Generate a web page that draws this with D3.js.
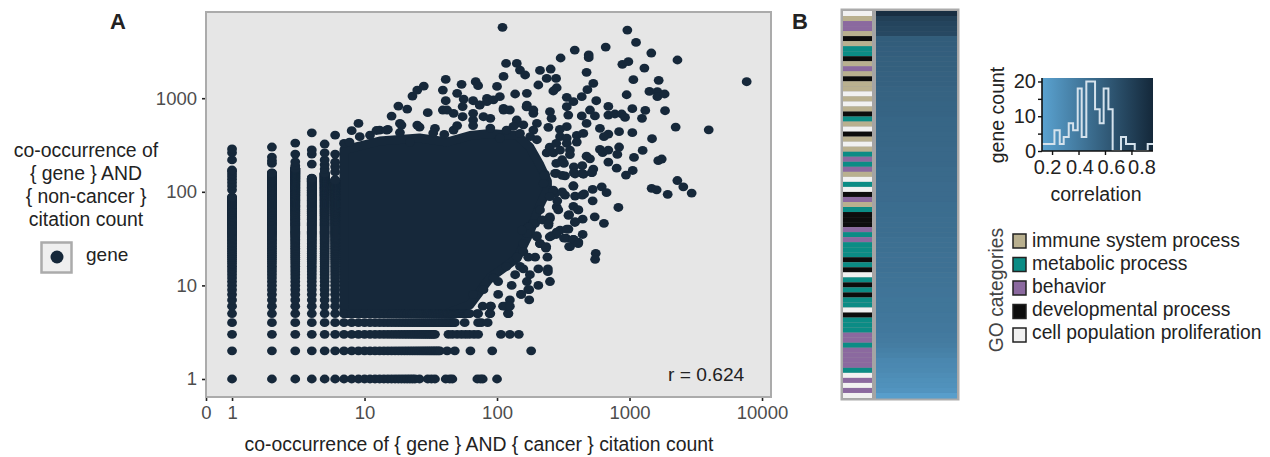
<!DOCTYPE html>
<html>

<head>
  <script src="https://d3js.org/d3.v7.min.js"></script>
  <style>
    body {
      margin: 0;
      background: white;
    }

    text {
      font-family: "Liberation Sans", Arial, sans-serif;
    }
  </style>
</head>

<body>
  <svg id="chart" width="1270" height="457"></svg>

  <script>
    // Panel A, values (citation counts)
    const xDomain = [0.636, 11690];
    const yDomain = [0.642, 8340];
    const xTicks = [0.636, 1, 10, 100, 1000, 10000];
    const yTicks = [1, 10, 100, 1000];

    // solid columns at small x: every count from 1 up to columnTop is taken
    const columnX = [1, 2, 3, 4, 5, 6];
    const columnTop = [88, 159, 179, 140, 159, 134];
    const columnExtras = [
      [105, 115, 125, 135, 145, 155, 165, 171, 219, 262, 287],
      [201, 215, 235, 301],
      [190, 209, 253, 332],
      [198, 253, 280, 427],
      [175, 195, 219, 260, 324],
      [163, 185, 207, 253, 404]
    ];

    // solid rows at small y, from x = 7 up to rowEnd
    const rowY = [1, 2, 3, 4, 5];
    const rowEnd = [24, 37, 34, 48, 62];
    const rowExtras = [
      [26, 30, 32, 34, 41, 44, 46, 71, 75, 78, 100],
      [42, 48, 63, 92, 181],
      [43, 46, 50, 54, 58, 62, 67, 72, 107, 125, 146],
      [57, 72, 76, 85],
      [71, 72, 88, 89, 121, 122]
    ];

    // outline of the part where the points merge into one solid shape
    const coreX = [7, 13, 26, 42, 62.5, 88.5, 142, 177, 211, 240];
    const coreTop = [280, 349, 376, 340, 400, 420, 400, 300, 193, 130];
    const coreBottom = [5, 5, 5, 5, 6.2, 12, 19.6, 37, 72, 105];

    const loosePoints = [
      [110, 5720], [963, 5350], [1120, 3950], [1460, 3040], [2300, 2560], [386, 3270], [661, 3520],
      [302, 2690], [492, 2900], [492, 2710], [7660, 1500], [3960, 460], [2230, 492], [883, 2300],
      [980, 2455], [1295, 2100], [474, 1890], [1069, 1578], [1660, 1552], [533, 1439], [481, 1233],
      [951, 1089], [1413, 1183], [1622, 1175], [1622, 1038], [1841, 1109], [561, 940], [692, 818],
      [1050, 773], [1315, 741], [1854, 735], [1242, 610], [692, 661], [776, 678], [873, 678],
      [925, 624], [834, 439], [1050, 428], [1479, 369], [692, 414], [598, 476], [641, 388],
      [834, 301], [1256, 277], [1081, 233], [1648, 215], [1750, 224], [809, 251], [692, 208],
      [800, 179], [940, 151], [1057, 169], [598, 284], [627, 262], [692, 279], [2296, 132],
      [2547, 113], [2944, 97], [1469, 109], [1603, 105], [1941, 94], [824, 68], [527, 106],
      [617, 113], [671, 98], [527, 80], [546, 54], [641, 46], [443, 51], [443, 35], [387, 47],
      [8, 450], [9, 538], [7, 330], [18, 824], [16, 644], [21, 766], [23, 1054], [25, 1222],
      [28, 1349], [41, 1589], [39, 1222], [41, 940], [54, 1406], [50, 1127], [69, 1500], [72, 1361],
      [56, 980], [66, 940], [100, 1337], [112, 1710], [117, 2355], [141, 2355], [149, 2000],
      [163, 1770], [211, 1982], [254, 2051], [237, 1629], [279, 1629], [282, 1294], [266, 1194],
      [205, 1384], [137, 1109], [168, 1127], [105, 1038], [84, 995], [74, 845], [30, 700], [39, 748],
      [336, 1021], [377, 918], [436, 1038], [336, 811], [251, 718], [258, 610], [345, 661], [503, 748],
      [436, 646], [548, 646], [474, 538], [244, 489], [336, 497], [298, 464], [188, 689], [168, 845],
      [112, 778], [141, 585], [19, 516], [25, 516], [34, 476], [13, 457], [15, 464], [11, 404],
      [47, 457], [66, 585], [230, 154], [274, 157], [326, 148], [388, 155], [449, 154], [519, 160],
      [377, 116], [454, 95], [388, 90], [326, 92], [274, 96], [282, 69], [346, 56], [411, 64],
      [388, 48], [251, 52], [244, 44], [194, 46], [172, 42], [346, 40], [282, 37], [259, 34],
      [332, 32], [377, 31], [411, 29], [356, 26], [556, 22], [550, 19], [199, 34], [211, 28],
      [234, 25], [240, 20], [194, 20], [205, 15], [242, 15], [242, 14], [251, 11], [205, 10],
      [177, 13], [168, 11], [172, 9], [152, 8], [175, 7], [158, 15], [137, 13], [158, 23], [129, 10],
      [102, 8], [125, 7], [115, 6], [89, 6], [78, 6], [70, 8], [90, 6], [111, 6], [125, 6],
      [152, 8], [175, 9],
      // clumps along the top of the solid part
      [42, 748], [47, 690], [55, 815], [55, 634], [66, 690], [79, 634], [89, 610], [74, 850], [84, 920],
      [94, 960], [112, 748], [125, 748], [141, 538], [167, 810], [188, 748], [200, 538], [158, 520],
      [188, 457], [149, 420], [118, 457], [105, 375], [200, 360], [178, 388], [133, 500], [89, 480],
      [66, 510], [50, 510], [40, 410], [33, 425], [26, 490], [18.5, 430], [14.7, 457], [12.3, 452],
      [9.2, 388], [7.7, 340], [22, 340], [18.5, 538],
      // clumps on its right side
      [299, 388], [336, 375], [400, 400], [448, 420], [250, 300], [280, 330], [336, 330], [400, 340],
      [237, 260], [266, 260], [299, 279], [355, 279], [310, 220], [355, 250], [474, 240], [503, 225],
      [280, 201], [320, 201], [440, 190], [380, 185], [533, 175], [280, 157], [310, 150], [380, 160],
      [440, 157], [520, 160], [228, 150], [225, 123], [266, 104], [310, 100], [377, 115], [440, 92],
      [250, 89], [285, 80], [377, 70], [410, 64], [350, 57], [290, 64], [250, 54], [211, 64], [188, 46],
      [220, 50], [245, 46], [173, 42], [299, 39], [336, 40], [280, 35], [250, 33], [200, 33], [211, 28],
      [235, 26], [320, 32], [377, 31], [410, 28], [350, 26],
      // lower right edge
      [66, 8], [79, 9], [102, 11], [149, 16], [118, 16], [94, 12], [141, 20], [172, 20], [158, 28],
      [168, 36], [154, 39]
    ];

    // Panel B
    const categoryNames = ['immune system process', 'metabolic process', 'behavior', 'developmental process', 'cell population proliferation'];
    const categoryColors = ['#b9b08f', '#0b8c85', '#8b699f', '#0d0d0d', '#f1f1f1'];
    // one letter per gene, top to bottom
    const geneCategories = 'wtpptktggktptkttwtwtkgtwktwtgpgptwgwkptgkkkpgpgggkgkwgkgkggwkgggppgppppgwpwpw'.split('');
    const categoryKeys = ['t', 'g', 'p', 'k', 'w'];
    const geneCorrelations = [
      .92, .80, .77, .75, .74, .60, .60, .59, .59, .58, .58, .58, .57, .57, .57, .56, .56, .56, .55, .55,
      .55, .54, .54, .54, .53, .53, .53, .52, .52, .52, .52, .51, .51, .51, .50, .50, .50, .50, .49, .49,
      .49, .48, .48, .48, .48, .47, .47, .47, .46, .46, .46, .46, .45, .45, .45, .44, .44, .43, .43, .43,
      .42, .42, .41, .41, .40, .39, .38, .36, .34, .31, .30, .29, .27, .25, .24, .22, .15
    ];

    // histogram inset
    const histEdges = [.124, .218, .258, .288, .326, .359, .394, .424, .459, .525, .56, .59, .626, .658, .721, .759, .825, .923, .963];
    const histCounts = [2, 6, 2, 4, 8, 6, 18, 4, 20, 12, 8, 18, 12, 0, 4, 2, 0, 2];
    const histXTicks = [0.2, 0.4, 0.6, 0.8];
    const histXLabelShift = [-5, 1, 6, 10];
    const histYTicks = [0, 5, 10, 15, 20];

    const dotColor = '#16283a';
    const borderColor = '#ababab';
    const lowColor = '#5aa2d0';
    const highColor = '#14283a';

    const svg = d3.select('svg#chart');

    // ---- panel A ----
    const plot = { left: 206, right: 771, top: 12, bottom: 397 };

    const xScale = d3.scaleLog().domain(xDomain).range([plot.left, plot.right]);
    const yScale = d3.scaleLog().domain(yDomain).range([plot.bottom, plot.top]);

    svg.append('rect')
      .attr('x', plot.left)
      .attr('y', plot.top)
      .attr('width', plot.right - plot.left)
      .attr('height', plot.bottom - plot.top)
      .attr('fill', '#e6e6e6')
      .attr('stroke', borderColor)
      .attr('stroke-width', 2);

    // expand the columns and rows to points
    const genePoints = [];
    columnX.forEach((x, i) => {
      d3.range(1, columnTop[i] + 1).forEach(y => genePoints.push([x, y]));
      columnExtras[i].forEach(y => genePoints.push([x, y]));
    });
    rowY.forEach((y, i) => {
      d3.range(7, rowEnd[i] + 1).forEach(x => genePoints.push([x, y]));
      rowExtras[i].forEach(x => genePoints.push([x, y]));
    });
    loosePoints.forEach(d => genePoints.push(d));

    const coreArea = d3.area()
      .x((d, i) => xScale(coreX[i]))
      .y0((d, i) => yScale(coreBottom[i]))
      .y1((d, i) => yScale(coreTop[i]));

    // stroke as wide as a dot, so the outline sits on the dot centres
    svg.append('path')
      .attr('d', coreArea(coreX))
      .attr('fill', dotColor)
      .attr('stroke', dotColor)
      .attr('stroke-width', 9)
      .attr('stroke-linejoin', 'round');

    // the dots in the picture are a little wider than tall
    svg.append('g').selectAll('ellipse').data(genePoints)
      .join('ellipse')
      .attr('cx', d => xScale(d[0]))
      .attr('cy', d => yScale(d[1]))
      .attr('rx', 4.9)
      .attr('ry', 4.4)
      .attr('fill', dotColor);

    function styleAxis(g, size, color) {
      g.select('.domain').remove();
      g.selectAll('line').attr('stroke', '#222').attr('stroke-width', 1.6);
      g.selectAll('text').style('font-size', size + 'px').attr('fill', color);
    }

    svg.append('g')
      .attr('transform', `translate(0,${plot.bottom + 1})`)
      .call(d3.axisBottom(xScale).tickValues(xTicks).tickSize(3).tickPadding(5)
        .tickFormat(d => d < 1 ? '0' : String(d)))
      .call(g => styleAxis(g, 18.5, '#4d4d4d'));

    svg.append('g')
      .attr('transform', `translate(${plot.left - 1},0)`)
      .call(d3.axisLeft(yScale).tickValues(yTicks).tickSize(3).tickPadding(5)
        .tickFormat(d => String(d)))
      .call(g => styleAxis(g, 18.5, '#4d4d4d'));

    svg.append('text')
      .text('co-occurrence of { gene } AND { cancer } citation count')
      .attr('x', 479).attr('y', 451)
      .attr('text-anchor', 'middle')
      .style('font-size', '19.4px')
      .attr('fill', '#222');

    svg.append('text')
      .text('r = 0.624')
      .attr('x', 668).attr('y', 381)
      .style('font-size', '19.2px')
      .attr('fill', '#222');

    svg.append('text').text('A')
      .attr('x', 110).attr('y', 29)
      .style('font-size', '22px').style('font-weight', 'bold').attr('fill', '#222');
    svg.append('text').text('B')
      .attr('x', 792).attr('y', 29)
      .style('font-size', '22px').style('font-weight', 'bold').attr('fill', '#222');

    // left legend
    const legendLines = ['co-occurrence of', '{ gene } AND', '{ non-cancer }', 'citation count'];
    svg.append('g').selectAll('text').data(legendLines)
      .join('text')
      .text(d => d)
      .attr('x', 86)
      .attr('y', (d, i) => 156.5 + i * 23.3)
      .attr('text-anchor', 'middle')
      .style('font-size', '19.4px')
      .attr('fill', '#222');

    svg.append('rect')
      .attr('x', 41.5).attr('y', 242.5)
      .attr('width', 30).attr('height', 30)
      .attr('fill', '#efefef')
      .attr('stroke', borderColor)
      .attr('stroke-width', 2.5);
    svg.append('circle')
      .attr('cx', 57).attr('cy', 257).attr('r', 6.5).attr('fill', dotColor);
    svg.append('text').text('gene')
      .attr('x', 86).attr('y', 261)
      .style('font-size', '19px').attr('fill', '#222');

    // ---- panel B ----
    const strip = { left: 843, right: 872, top: 11, bottom: 398 };
    const heat = { left: 876, right: 957 };

    const rowScale = d3.scaleBand()
      .domain(d3.range(geneCategories.length))
      .range([strip.top, strip.bottom]);

    const categoryScale = d3.scaleOrdinal().domain(categoryKeys).range(categoryColors);

    const colorScale = d3.scaleLinear()
      .domain([histEdges[0], histEdges[histEdges.length - 1]])
      .range([lowColor, highColor]);

    svg.append('rect')
      .attr('x', strip.left - 1.5)
      .attr('y', strip.top - 1.5)
      .attr('width', heat.right - strip.left + 3)
      .attr('height', strip.bottom - strip.top + 3)
      .attr('fill', '#a4a4a4')
      .attr('stroke', borderColor)
      .attr('stroke-width', 2);

    svg.append('g').selectAll('rect').data(geneCategories)
      .join('rect')
      .attr('x', strip.left)
      .attr('y', (d, i) => rowScale(i))
      .attr('width', strip.right - strip.left)
      .attr('height', rowScale.bandwidth())
      .attr('fill', d => categoryScale(d));

    svg.append('g').selectAll('rect').data(geneCorrelations)
      .join('rect')
      .attr('x', heat.left)
      .attr('y', (d, i) => rowScale(i))
      .attr('width', heat.right - heat.left)
      .attr('height', rowScale.bandwidth() + 0.5)
      .attr('fill', d => colorScale(d));

    // histogram inset
    const hist = { left: 1042, right: 1153, top: 78, bottom: 151 };

    const histX = d3.scaleLinear()
      .domain([histEdges[0], histEdges[histEdges.length - 1]])
      .range([hist.left, hist.right]);
    const histY = d3.scaleLinear().domain([0, 21]).range([hist.bottom, hist.top]);

    const gradient = svg.append('defs').append('linearGradient').attr('id', 'histGradient');
    gradient.append('stop').attr('offset', '0%').attr('stop-color', lowColor);
    gradient.append('stop').attr('offset', '100%').attr('stop-color', highColor);

    svg.append('rect')
      .attr('x', hist.left).attr('y', hist.top)
      .attr('width', hist.right - hist.left)
      .attr('height', hist.bottom - hist.top)
      .attr('fill', 'url(#histGradient)');

    const histLine = d3.line()
      .x((d, i) => histX(histEdges[i]))
      .y(d => histY(d))
      .curve(d3.curveStepAfter);

    svg.append('path')
      .attr('d', histLine(histCounts.concat(histCounts[histCounts.length - 1])))
      .attr('fill', 'none')
      .attr('stroke', '#d5e2ec')
      .attr('stroke-width', 2);

    svg.append('g')
      .attr('transform', `translate(0,${hist.bottom})`)
      .call(d3.axisBottom(histX).tickValues(histXTicks).tickSize(4).tickPadding(5)
        .tickFormat(d3.format('.1f')))
      .call(g => {
        g.select('.domain').attr('d', `M${hist.left},0H${hist.right}`).attr('stroke', '#111').attr('stroke-width', 1.6);
        g.selectAll('line').attr('stroke', '#111').attr('stroke-width', 1.4);
        g.selectAll('text')
          .style('font-size', '20px')
          .attr('fill', '#222')
          .attr('dx', (d, i) => histXLabelShift[i]);
      });

    svg.append('g')
      .attr('transform', `translate(${hist.left},0)`)
      .call(d3.axisLeft(histY).tickValues(histYTicks).tickSize(4).tickPadding(2)
        .tickFormat(d => d % 10 === 0 ? String(d) : ''))
      .call(g => {
        g.select('.domain').attr('d', `M0,${hist.top}V${hist.bottom}`).attr('stroke', '#111').attr('stroke-width', 1.6);
        g.selectAll('line').attr('stroke', '#111').attr('stroke-width', 1.4);
        g.selectAll('text').style('font-size', '20px').attr('fill', '#222');
      });

    svg.append('text').text('correlation')
      .attr('x', 1096).attr('y', 201)
      .attr('text-anchor', 'middle')
      .style('font-size', '19.5px').attr('fill', '#222');

    svg.append('text').text('gene count')
      .attr('transform', 'translate(1004,115) rotate(-90)')
      .attr('text-anchor', 'middle')
      .style('font-size', '19.5px').attr('fill', '#222');

    // category legend
    const legendY = d3.scalePoint().domain(categoryNames).range([241, 335]);

    svg.append('g').selectAll('rect').data(categoryNames)
      .join('rect')
      .attr('x', 1013)
      .attr('y', d => legendY(d) - 7)
      .attr('width', 13)
      .attr('height', 14)
      .attr('fill', (d, i) => categoryColors[i])
      .attr('stroke', '#222')
      .attr('stroke-width', 1.5);

    svg.append('g').selectAll('text').data(categoryNames)
      .join('text')
      .text(d => d)
      .attr('x', 1032)
      .attr('y', (d, i) => legendY(d) + 5.5 - i * 0.5)
      .style('font-size', '19.3px')
      .attr('fill', '#222');

    svg.append('text').text('GO categories')
      .attr('transform', 'translate(1003,290) rotate(-90)')
      .attr('text-anchor', 'middle')
      .style('font-size', '19.3px').attr('fill', '#444');
  </script>
</body>

</html>
